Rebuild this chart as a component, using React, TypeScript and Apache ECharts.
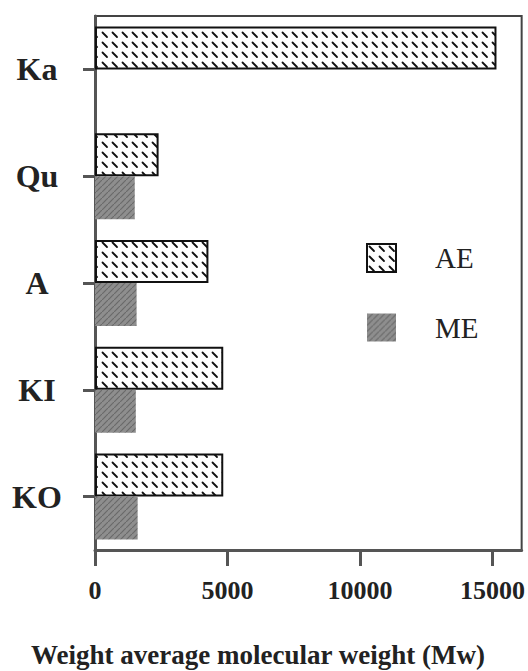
import React, { useEffect, useRef } from "react";
import * as echarts from "echarts";

const categories = ["Ka", "Qu", "A", "KI", "KO"];
const aeValues = [15150, 2400, 4280, 4840, 4840];
const meValues = [null, 1500, 1570, 1540, 1610];
const xTicks = [0, 5000, 10000, 15000];
const seriesNames = ["AE", "ME"];
const xTitle = "Weight average molecular weight (Mw)";

function makeAEPattern(): HTMLCanvasElement {
  const c = document.createElement("canvas");
  c.width = 10;
  c.height = 10;
  const ctx = c.getContext("2d")!;
  ctx.fillStyle = "#ffffff";
  ctx.fillRect(0, 0, 10, 10);
  ctx.strokeStyle = "#111111";
  ctx.lineWidth = 1.8;
  ctx.lineCap = "round";
  ctx.beginPath();
  ctx.moveTo(2.5, 2.5);
  ctx.lineTo(7, 7);
  ctx.stroke();
  return c;
}

function makeMEPattern(): HTMLCanvasElement {
  const c = document.createElement("canvas");
  c.width = 6;
  c.height = 6;
  const ctx = c.getContext("2d")!;
  ctx.fillStyle = "#8e8e8e";
  ctx.fillRect(0, 0, 6, 6);
  ctx.strokeStyle = "#6a6a6a";
  ctx.lineWidth = 1.2;
  ctx.beginPath();
  ctx.moveTo(0, 6);
  ctx.lineTo(6, 0);
  ctx.stroke();
  return c;
}

export default function App() {
  const ref = useRef<HTMLDivElement>(null);
  useEffect(() => {
    if (!ref.current) return;
    const chart = echarts.init(ref.current, undefined, { renderer: "svg" });
    const serif = "'Liberation Serif', 'DejaVu Serif', serif";
    const aePattern = { image: makeAEPattern(), repeat: "repeat" };
    const mePattern = { image: makeMEPattern(), repeat: "repeat" };
    chart.setOption({
      animation: false,
      backgroundColor: "#ffffff",
      grid: {
        left: 95,
        right: 3,
        top: 16,
        bottom: 121,
        show: true,
        borderColor: "#444",
        borderWidth: 2,
        backgroundColor: "transparent",
      },
      legend: {
        show: true,
        orient: "vertical",
        left: 361,
        top: 238,
        itemWidth: 29,
        itemHeight: 28,
        itemGap: 40,
        icon: "rect",
        data: seriesNames,
        textStyle: {
          fontFamily: serif,
          fontSize: 29,
          color: "#222",
          padding: [0, 0, 0, 34],
        },
      },
      graphic: [
        {
          type: "text",
          left: 31,
          top: 641,
          style: {
            text: xTitle,
            fontFamily: serif,
            fontWeight: "bold",
            fontSize: 27,
            fill: "#222",
          },
        },
      ],
      xAxis: {
        type: "value",
        min: 0,
        max: 16100,
        interval: 5000,
        splitLine: { show: false },
        axisLine: { show: true, lineStyle: { color: "#555", width: 3 } },
        axisTick: {
          show: true,
          length: 16,
          customValues: xTicks,
          lineStyle: { color: "#555", width: 3 },
        },
        axisLabel: {
          customValues: xTicks,
          formatter: (v: number) => String(v),
          fontFamily: serif,
          fontWeight: "bold",
          fontSize: 26,
          color: "#222",
          margin: 27,
        },
      },
      yAxis: {
        type: "category",
        inverse: true,
        data: categories,
        axisLine: { show: true, lineStyle: { color: "#555", width: 3 } },
        axisTick: {
          show: true,
          alignWithLabel: true,
          length: 12,
          lineStyle: { color: "#555", width: 3 },
        },
        axisLabel: {
          fontFamily: serif,
          fontWeight: "bold",
          fontSize: 32,
          color: "#222",
          align: "center",
          margin: 58,
        },
      },
      series: [
        {
          name: "AE",
          type: "bar",
          data: aeValues,
          barWidth: 43,
          barGap: "0%",
          itemStyle: { color: aePattern, borderColor: "#111", borderWidth: 2 },
        },
        {
          name: "ME",
          type: "bar",
          data: meValues,
          barWidth: 43,
          barGap: "0%",
          itemStyle: { color: mePattern, borderWidth: 0 },
        },
      ],
    });
    return () => chart.dispose();
  }, []);
  return (
    <div
      ref={ref}
      style={{ position: "fixed", left: 0, top: 0, width: 528, height: 671 }}
    />
  );
}
